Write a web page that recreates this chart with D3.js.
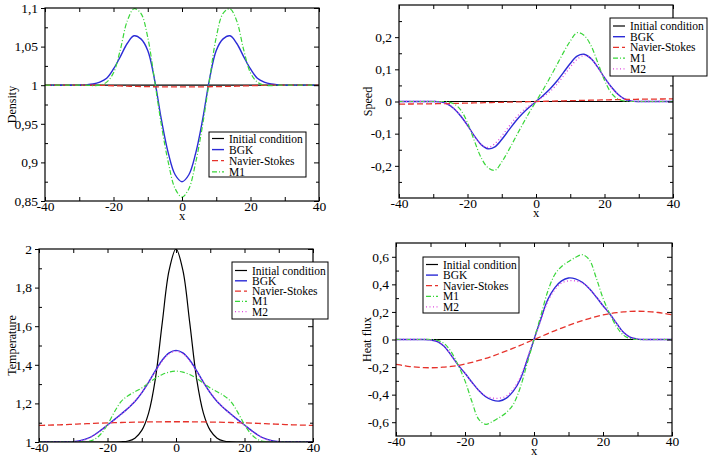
<!DOCTYPE html>
<html>
<head>
<meta charset="utf-8">
<script src="https://cdn.jsdelivr.net/npm/d3@7"></script>
<style>
  body { margin: 0; background: #fff; }
  svg text { font-family: "Liberation Serif", "Times New Roman", Times, serif !important; }
</style>
</head>
<body>
<svg id="chart" width="711" height="457"></svg>
<script>
// x grid shared by every curve
const xValues = [-40, -38, -36, -34, -32, -30, -28, -26, -24, -22, -20, -18, -16, -14, -12, -10, -8, -6, -4, -2,
  0, 2, 4, 6, 8, 10, 12, 14, 16, 18, 20, 22, 24, 26, 28, 30, 32, 34, 36, 38, 40];

// Density
const densityInitial = [1, 1, 1, 1, 1, 1, 1, 1, 1, 1, 1, 1, 1, 1, 1, 1, 1, 1, 1, 1,
  1, 1, 1, 1, 1, 1, 1, 1, 1, 1, 1, 1, 1, 1, 1, 1, 1, 1, 1, 1, 1];
const densityBGK = [1, 1, 1, 1, 1, 1, 1.0005, 1.0015, 1.004, 1.009, 1.021, 1.037, 1.054, 1.064, 1.060, 1.045, 1.007, 0.955, 0.912, 0.884,
  0.875, 0.884, 0.912, 0.955, 1.007, 1.045, 1.060, 1.064, 1.054, 1.037, 1.021, 1.009, 1.004, 1.0015, 1.0005, 1, 1, 1, 1, 1, 1];
const densityNS = [1, 1, 1, 1, 1, 1, 1, 1, 0.9998, 0.9996, 0.9993, 0.999, 0.9987, 0.9985, 0.9983, 0.9981, 0.998, 0.9979, 0.9978, 0.9978,
  0.9978, 0.9978, 0.9978, 0.9979, 0.998, 0.9981, 0.9983, 0.9985, 0.9987, 0.999, 0.9993, 0.9996, 0.9998, 1, 1, 1, 1, 1, 1, 1, 1];
const densityM1 = [1, 1, 1, 1, 1, 1, 1, 0.9995, 1.0, 1.004, 1.016, 1.046, 1.083, 1.099, 1.093, 1.062, 1.006, 0.948, 0.9, 0.866,
  0.855, 0.866, 0.9, 0.948, 1.006, 1.062, 1.093, 1.099, 1.083, 1.046, 1.016, 1.004, 1.0, 0.9995, 1, 1, 1, 1, 1, 1, 1];

// Speed
const speedInitial = [0, 0, 0, 0, 0, 0, 0, 0, 0, 0, 0, 0, 0, 0, 0, 0, 0, 0, 0, 0,
  0, 0, 0, 0, 0, 0, 0, 0, 0, 0, 0, 0, 0, 0, 0, 0, 0, 0, 0, 0, 0];
const speedBGK = [0, 0, 0, 0, 0, 0, -0.001, -0.007, -0.022, -0.045, -0.074, -0.107, -0.134, -0.147, -0.141, -0.118, -0.09, -0.062, -0.038, -0.018,
  0, 0.018, 0.038, 0.062, 0.09, 0.118, 0.141, 0.147, 0.134, 0.107, 0.074, 0.045, 0.022, 0.007, 0.001, 0, 0, 0, 0, 0, 0];
const speedNS = [-0.008, -0.0079, -0.0077, -0.0075, -0.0073, -0.007, -0.0067, -0.0063, -0.006, -0.0055, -0.005, -0.0045, -0.004, -0.0035, -0.003, -0.0025, -0.002, -0.0015, -0.001, -0.0005,
  0, 0.0005, 0.001, 0.0015, 0.002, 0.0025, 0.003, 0.0035, 0.004, 0.0045, 0.005, 0.0055, 0.006, 0.0063, 0.0067, 0.007, 0.0073, 0.0075, 0.0077, 0.0079, 0.008];
const speedM1 = [0, 0, 0, 0, 0, 0, 0, -0.001, -0.007, -0.026, -0.066, -0.122, -0.175, -0.206, -0.214, -0.188, -0.152, -0.112, -0.073, -0.035,
  0, 0.035, 0.073, 0.112, 0.152, 0.188, 0.214, 0.206, 0.175, 0.122, 0.066, 0.026, 0.007, 0.001, 0, 0, 0, 0, 0, 0, 0];
const speedM2 = [0, 0, 0, 0, 0, 0, -0.001, -0.007, -0.021, -0.044, -0.074, -0.107, -0.134, -0.143, -0.131, -0.107, -0.079, -0.052, -0.03, -0.014,
  0, 0.014, 0.03, 0.052, 0.079, 0.107, 0.131, 0.143, 0.134, 0.107, 0.074, 0.044, 0.021, 0.007, 0.001, 0, 0, 0, 0, 0, 0];

// Temperature
const tempInitial = [1, 1, 1, 1, 1, 1, 1, 1, 1, 1, 1, 1, 1.001, 1.005, 1.02, 1.06, 1.15, 1.33, 1.62, 1.89,
  2.0, 1.89, 1.62, 1.33, 1.15, 1.06, 1.02, 1.005, 1.001, 1, 1, 1, 1, 1, 1, 1, 1, 1, 1, 1, 1];
const tempBGK = [1, 1, 1, 1, 1, 1.002, 1.007, 1.017, 1.035, 1.06, 1.088, 1.116, 1.145, 1.175, 1.21, 1.255, 1.31, 1.37, 1.425, 1.462,
  1.475, 1.462, 1.425, 1.37, 1.31, 1.255, 1.21, 1.175, 1.145, 1.116, 1.088, 1.06, 1.035, 1.017, 1.007, 1.002, 1, 1, 1, 1, 1];
const tempNS = [1.086, 1.087, 1.088, 1.089, 1.0905, 1.092, 1.0935, 1.095, 1.0965, 1.098, 1.099, 1.1, 1.101, 1.102, 1.103, 1.1035, 1.104, 1.1045, 1.1048, 1.105,
  1.105, 1.105, 1.1048, 1.1045, 1.104, 1.1035, 1.103, 1.102, 1.101, 1.1, 1.099, 1.098, 1.0965, 1.095, 1.0935, 1.092, 1.0905, 1.089, 1.088, 1.087, 1.086];
const tempM1 = [1, 1, 1, 1, 1, 1, 1, 1.002, 1.012, 1.04, 1.09, 1.155, 1.21, 1.24, 1.26, 1.28, 1.305, 1.33, 1.35, 1.362,
  1.367, 1.362, 1.35, 1.33, 1.305, 1.28, 1.26, 1.24, 1.21, 1.155, 1.09, 1.04, 1.012, 1.002, 1, 1, 1, 1, 1, 1, 1];
const tempM2 = [1, 1, 1, 1, 1, 1.002, 1.006, 1.016, 1.034, 1.058, 1.086, 1.113, 1.143, 1.175, 1.212, 1.257, 1.31, 1.366, 1.42, 1.457,
  1.47, 1.457, 1.42, 1.366, 1.31, 1.257, 1.212, 1.175, 1.143, 1.113, 1.086, 1.058, 1.034, 1.016, 1.006, 1.002, 1, 1, 1, 1, 1];

// Heat flux
const fluxInitial = [0, 0, 0, 0, 0, 0, 0, 0, 0, 0, 0, 0, 0, 0, 0, 0, 0, 0, 0, 0,
  0, 0, 0, 0, 0, 0, 0, 0, 0, 0, 0, 0, 0, 0, 0, 0, 0, 0, 0, 0, 0];
const fluxBGK = [0, 0, 0, 0, 0, -0.003, -0.015, -0.05, -0.115, -0.185, -0.245, -0.31, -0.37, -0.415, -0.44, -0.446, -0.425, -0.375, -0.29, -0.15,
  0, 0.15, 0.29, 0.375, 0.425, 0.446, 0.44, 0.415, 0.37, 0.31, 0.245, 0.185, 0.115, 0.05, 0.015, 0.003, 0, 0, 0, 0, 0];
const fluxNS = [-0.18, -0.188, -0.196, -0.201, -0.204, -0.205, -0.204, -0.2, -0.195, -0.188, -0.178, -0.166, -0.152, -0.137, -0.12, -0.102, -0.083, -0.063, -0.043, -0.021,
  0, 0.021, 0.043, 0.063, 0.083, 0.102, 0.12, 0.137, 0.152, 0.166, 0.178, 0.188, 0.195, 0.2, 0.204, 0.205, 0.204, 0.201, 0.196, 0.188, 0.18];
const fluxM1 = [0, 0, 0, 0, 0, 0, -0.006, -0.03, -0.09, -0.185, -0.30, -0.45, -0.58, -0.615, -0.595, -0.565, -0.53, -0.47, -0.35, -0.175,
  0, 0.175, 0.35, 0.47, 0.53, 0.565, 0.595, 0.615, 0.58, 0.45, 0.30, 0.185, 0.09, 0.03, 0.006, 0, 0, 0, 0, 0, 0];
const fluxM2 = [0, 0, 0, 0, 0, -0.003, -0.015, -0.05, -0.115, -0.185, -0.245, -0.31, -0.37, -0.41, -0.425, -0.425, -0.41, -0.36, -0.275, -0.14,
  0, 0.14, 0.275, 0.36, 0.41, 0.425, 0.425, 0.41, 0.37, 0.31, 0.245, 0.185, 0.115, 0.05, 0.015, 0.003, 0, 0, 0, 0, 0];

// Ticks
const xTicks = [-40, -20, 0, 20, 40];
const xMinorTicks = [-30, -10, 10, 30];
const densityTicks = [0.85, 0.9, 0.95, 1, 1.05, 1.1];
const densityMinor = [0.875, 0.925, 0.975, 1.025, 1.075];
const speedTicks = [-0.2, -0.1, 0, 0.1, 0.2];
const speedMinor = [-0.25, -0.15, -0.05, 0.05, 0.15, 0.25];
const tempTicks = [1, 1.2, 1.4, 1.6, 1.8, 2];
const tempMinor = [1.1, 1.3, 1.5, 1.7, 1.9];
const fluxTicks = [-0.6, -0.4, -0.2, 0, 0.2, 0.4, 0.6];
const fluxMinor = [-0.5, -0.3, -0.1, 0.1, 0.3, 0.5];

const seriesNames = ["Initial condition", "BGK", "Navier-Stokes", "M1", "M2"];

const FONT = "'Liberation Serif', 'Times New Roman', Times, serif";

const styles = {
    "Initial condition": { color: "#000000", dash: null, width: 1.2 },
    "BGK": { color: "#2b2bd6", dash: null, width: 1.4 },
    "Navier-Stokes": { color: "#e6322b", dash: "6,3", width: 1.3 },
    "M1": { color: "#3ad63a", dash: "5,2,1,2", width: 1.2 },
    "M2": { color: "#e048e0", dash: "1,2.5", width: 1.3 }
};

const panels = [
    {
        frame: { left: 45, right: 319, top: 8, bottom: 201 },
        yDomain: [0.85, 1.1], yTicks: densityTicks, yMinor: densityMinor,
        yLabel: "Density", titleDx: 33, xLabel: true,
        values: [densityInitial, densityBGK, densityNS, densityM1],
        legend: { x: 209, y: 132, w: 97, h: 45, first: 6.5, step: 11.1 }
    },
    {
        frame: { left: 399, right: 673, top: 5, bottom: 198 },
        yDomain: [-0.3, 0.3], yTicks: speedTicks, yMinor: speedMinor,
        yLabel: "Speed", titleDx: 31, xLabel: true,
        values: [speedInitial, speedBGK, speedNS, speedM1, speedM2],
        legend: { x: 610, y: 18, w: 97, h: 58, first: 8, step: 10.7 }
    },
    {
        frame: { left: 39, right: 313, top: 249, bottom: 442 },
        yDomain: [1, 2], yTicks: tempTicks, yMinor: tempMinor,
        yLabel: "Temperature", titleDx: 27, xLabel: false,
        values: [tempInitial, tempBGK, tempNS, tempM1, tempM2],
        legend: { x: 232, y: 262, w: 96, h: 57, first: 8.5, step: 10.3 }
    },
    {
        frame: { left: 396, right: 672, top: 243, bottom: 436 },
        yDomain: [-0.7, 0.7], yTicks: fluxTicks, yMinor: fluxMinor,
        yLabel: "Heat flux", titleDx: 29, xLabel: true,
        values: [fluxInitial, fluxBGK, fluxNS, fluxM1, fluxM2],
        legend: { x: 423, y: 257, w: 96, h: 56, first: 7.5, step: 10.6 }
    }
];

const locale = d3.formatLocale({ decimal: ",", thousands: ".", grouping: [3], currency: ["", ""], minus: "-" });
const fmt = locale.format("~g");

const svg = d3.select("#chart").attr("font-family", FONT);

const styleAxis = g => {
    g.select(".domain").remove();
    g.attr("font-family", FONT).attr("font-size", 13.5);
    g.selectAll("line").attr("stroke-width", 1);
};

panels.forEach((p, i) => {
    const f = p.frame;
    const x = d3.scaleLinear().domain([-40, 40]).range([f.left, f.right]);
    const y = d3.scaleLinear().domain(p.yDomain).range([f.bottom, f.top]);

    const g = svg.append("g");

    // clip to the frame
    g.append("clipPath").attr("id", "clip" + i)
     .append("rect")
     .attr("x", f.left).attr("y", f.top)
     .attr("width", f.right - f.left).attr("height", f.bottom - f.top);

    const line = d3.line()
                   .x(d => x(d[0]))
                   .y(d => y(d[1]))
                   .curve(d3.curveCatmullRom);

    const curves = g.append("g").attr("clip-path", `url(#clip${i})`);
    p.values.forEach((vals, k) => {
        const st = styles[seriesNames[k]];
        curves.append("path")
              .datum(d3.zip(xValues, vals))
              .attr("d", line)
              .attr("fill", "none")
              .attr("stroke", st.color)
              .attr("stroke-width", st.width)
              .attr("stroke-dasharray", st.dash);
    });

    // bottom axis
    g.append("g")
     .attr("transform", `translate(0,${f.bottom})`)
     .call(d3.axisBottom(x).tickValues(xTicks).tickSize(-4).tickPadding(0).tickFormat(fmt))
     .call(styleAxis);
    g.append("g")
     .attr("transform", `translate(0,${f.bottom})`)
     .call(d3.axisBottom(x).tickValues(xMinorTicks).tickSize(-4).tickFormat(""))
     .call(styleAxis);
    // top axis
    g.append("g")
     .attr("transform", `translate(0,${f.top})`)
     .call(d3.axisTop(x).tickValues(xTicks.concat(xMinorTicks)).tickSize(-4).tickFormat(""))
     .call(styleAxis);
    // left axis: major outward, minor inward
    g.append("g")
     .attr("transform", `translate(${f.left},0)`)
     .call(d3.axisLeft(y).tickValues(p.yTicks).tickSize(4).tickPadding(3).tickFormat(fmt))
     .call(styleAxis);
    g.append("g")
     .attr("transform", `translate(${f.left},0)`)
     .call(d3.axisLeft(y).tickValues(p.yMinor).tickSize(-3).tickFormat(""))
     .call(styleAxis);
    // right axis
    g.append("g")
     .attr("transform", `translate(${f.right},0)`)
     .call(d3.axisRight(y).tickValues(p.yTicks).tickSize(-5).tickFormat(""))
     .call(styleAxis);
    g.append("g")
     .attr("transform", `translate(${f.right},0)`)
     .call(d3.axisRight(y).tickValues(p.yMinor).tickSize(-3).tickFormat(""))
     .call(styleAxis);

    // frame
    g.append("rect")
     .attr("x", f.left).attr("y", f.top)
     .attr("width", f.right - f.left).attr("height", f.bottom - f.top)
     .attr("fill", "none")
     .attr("stroke", "#000")
     .attr("stroke-width", 1.2);

    // axis titles
    g.append("text")
     .attr("transform", `translate(${f.left - p.titleDx},${(f.top + f.bottom) / 2}) rotate(-90)`)
     .attr("text-anchor", "middle")
     .attr("dy", "0.35em")
     .attr("font-size", 12)
     .text(p.yLabel);
    if (p.xLabel) {
        g.append("text")
         .attr("x", (f.left + f.right) / 2)
         .attr("y", f.bottom + 19)
         .attr("text-anchor", "middle")
         .attr("font-size", 12.5)
         .text("x");
    }

    // legend
    const L = p.legend;
    const lg = g.append("g");
    lg.append("rect")
      .attr("x", L.x).attr("y", L.y)
      .attr("width", L.w).attr("height", L.h)
      .attr("fill", "#fff")
      .attr("stroke", "#000")
      .attr("stroke-width", 1);
    p.values.forEach((vals, k) => {
        const name = seriesNames[k];
        const st = styles[name];
        const cy = L.y + L.first + k * L.step;
        lg.append("line")
          .attr("x1", L.x + 3).attr("x2", L.x + 15)
          .attr("y1", cy).attr("y2", cy)
          .attr("stroke", st.color)
          .attr("stroke-width", st.width)
          .attr("stroke-dasharray", st.dash);
        lg.append("text")
          .attr("x", L.x + 20)
          .attr("y", cy)
          .attr("dy", "0.35em")
          .attr("font-size", 11.5)
          .text(name);
    });
});
</script>
</body>
</html>
